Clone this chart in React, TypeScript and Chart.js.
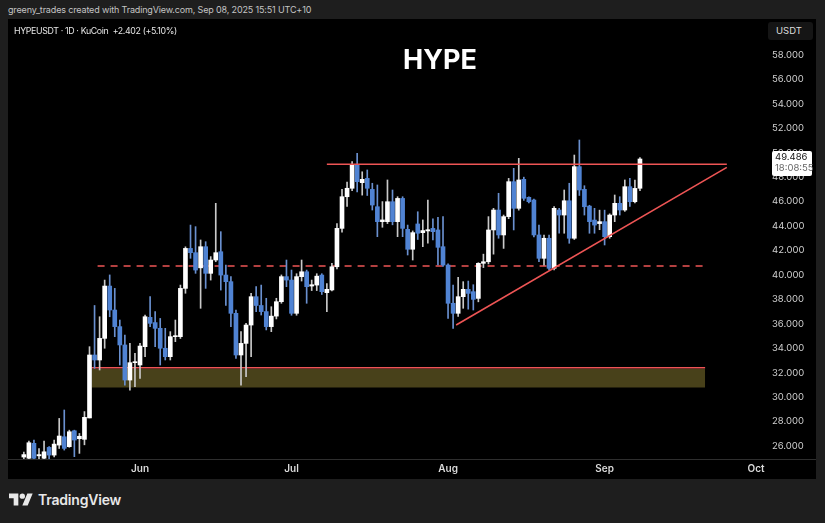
import React, { useEffect, useRef } from "react";
import { Chart, registerables } from "chart.js";

Chart.register(...registerables);

// Daily candles HYPEUSDT (KuCoin), first candle 2025-05-09; x = day offset from Jun 1
const FIRST_DAY = -23;
const opens = [
  25.1, 25.0, 26.22, 25.2, 25.0, 25.89, 25.26, 26.08, 26.76, 25.95, 27.25, 26.6, 26.55, 28.3, 33.45, 33.04, 34.81, 39.09, 37.13, 35.77,
  34.27, 31.4, 32.82, 32.63, 34.13, 36.53, 36.1, 35.63, 34.0, 33.31, 34.95, 34.95, 38.9, 42.17, 41.82, 40.58, 42.31, 40.13, 41.22, 41.9,
  39.99, 39.45, 36.86, 33.45, 34.4, 35.9, 38.22, 37.5, 37.0, 35.77, 36.63, 37.81, 39.86, 39.58, 36.86, 39.86, 40.26, 39.09, 39.17, 39.99,
  38.55, 38.77, 40.67, 43.81, 46.4, 47.09, 49.0, 47.55, 47.9, 47.0, 45.58, 44.36, 44.36, 45.99, 44.36, 46.26, 43.73, 42.1, 44.17, 43.46,
  43.6, 43.81, 43.68, 42.31, 40.81, 37.68, 36.86, 38.22, 38.82, 38.63, 38.08, 40.95, 41.08, 43.68, 45.31, 43.27, 44.77, 47.63, 45.45, 47.82,
  46.35, 46.13, 43.27, 41.36, 43.0, 40.54, 45.31, 44.9, 46.07, 43.0, 48.86, 47.0, 45.63, 44.49, 44.2, 44.36, 43.13, 44.9, 45.86, 45.31,
  47.22, 45.99, 47.09,
];
const highs = [
  25.5, 26.4, 26.49, 25.8, 26.41, 25.95, 26.49, 28.26, 28.95, 27.3, 27.3, 27.03, 28.82, 34.13, 37.5, 36.58, 39.58, 40.0, 38.9, 36.31,
  35.08, 34.4, 33.58, 34.4, 36.72, 38.22, 37.0, 36.44, 35.63, 35.36, 36.31, 39.17, 42.3, 44.08, 43.95, 42.86, 42.72, 41.5, 45.86, 43.54,
  40.81, 39.86, 37.13, 35.36, 36.04, 38.5, 39.04, 39.17, 38.09, 37.4, 38.09, 40.0, 41.22, 40.4, 40.1, 41.22, 40.4, 39.58, 40.1, 40.1,
  39.3, 40.95, 44.2, 47.0, 47.6, 49.27, 49.95, 48.44, 48.59, 47.5, 47.36, 46.0, 47.77, 46.95, 46.4, 46.4, 44.08, 43.6, 45.17, 44.5,
  46.13, 44.6, 44.72, 44.77, 40.9, 39.17, 39.8, 39.45, 39.5, 39.2, 41.0, 41.7, 44.77, 45.45, 46.68, 44.9, 47.9, 48.72, 49.54, 48.0,
  46.4, 46.2, 44.08, 43.27, 43.27, 45.6, 45.45, 46.95, 47.5, 49.81, 51.04, 47.3, 45.7, 45.45, 45.3, 45.3, 45.0, 46.54, 46.4, 47.77,
  47.9, 47.77, 49.6,
];
const lows = [
  24.9, 24.95, 24.95, 24.95, 24.95, 24.95, 25.1, 25.8, 25.67, 25.9, 25.13, 25.4, 26.1, 28.3, 32.36, 32.22, 34.0, 36.58, 34.95, 32.63,
  30.99, 30.58, 30.85, 31.54, 33.31, 35.77, 34.13, 32.63, 33.04, 33.04, 34.54, 34.8, 38.5, 41.36, 40.13, 37.27, 38.9, 39.58, 41.08, 38.76,
  37.5, 35.77, 33.17, 30.99, 31.67, 33.31, 37.0, 36.72, 35.5, 35.36, 36.4, 37.68, 39.04, 36.7, 36.7, 39.5, 37.68, 38.72, 38.72, 38.4,
  37.0, 38.7, 40.5, 43.5, 45.6, 46.9, 46.8, 46.53, 46.5, 45.31, 43.13, 43.9, 44.2, 44.1, 43.13, 43.13, 41.63, 41.22, 42.9, 42.31,
  42.59, 42.86, 40.81, 40.7, 36.45, 35.63, 36.6, 37.27, 37.2, 37.13, 37.8, 40.6, 40.9, 41.7, 43.0, 42.17, 44.6, 43.68, 45.3, 46.1,
  45.9, 43.1, 41.08, 40.8, 40.4, 40.4, 43.41, 43.41, 42.59, 42.9, 46.5, 44.9, 43.41, 43.41, 43.7, 42.45, 43.0, 44.36, 44.9, 45.2,
  45.6, 45.9, 46.9,
];
const closes = [
  25.3, 26.27, 25.0, 25.3, 25.53, 25.26, 26.16, 26.82, 25.81, 27.17, 26.49, 26.8, 28.35, 33.45, 33.04, 34.81, 39.09, 37.13, 35.77, 34.27,
  31.4, 32.82, 32.9, 34.18, 36.58, 36.04, 35.63, 34.0, 33.31, 34.95, 35.0, 38.9, 42.17, 41.82, 40.4, 42.31, 40.13, 41.22, 41.82, 39.99,
  39.45, 36.86, 33.45, 34.4, 35.9, 38.22, 37.5, 37.0, 35.77, 36.63, 37.81, 39.86, 39.58, 36.86, 39.86, 40.26, 39.04, 39.2, 39.9, 38.63,
  38.82, 40.67, 43.81, 46.4, 47.09, 49.0, 47.63, 47.82, 47.09, 45.72, 44.36, 44.5, 45.99, 44.36, 46.26, 43.81, 42.1, 43.46, 43.41, 43.63,
  43.7, 43.54, 42.26, 40.81, 37.68, 36.86, 38.22, 38.82, 38.49, 38.0, 40.95, 41.08, 43.68, 45.31, 43.27, 44.77, 47.63, 45.45, 47.77, 46.27,
  45.99, 43.27, 41.36, 43.0, 40.54, 45.45, 44.9, 46.07, 43.0, 48.86, 46.95, 45.58, 44.36, 44.08, 44.36, 43.13, 44.9, 45.86, 45.31, 47.22,
  45.99, 47.08, 49.486,
];

const monthTicks = [0, 30, 61, 92, 122];
const monthLabels = ["Jun", "Jul", "Aug", "Sep", "Oct"];
const priceTicks = [26, 28, 30, 32, 34, 36, 38, 40, 42, 44, 46, 48, 50, 52, 54, 56, 58];
const Y_MIN = 24.94;
const Y_MAX = 60.94;
const X_MIN = -26.14;
const X_MAX = 123.76;

// drawn levels (day offset, price)
const resistanceLine = [{ x: 37, y: 49.05 }, { x: 116.2, y: 49.05 }];
const midLevel = [{ x: -8.4, y: 40.73 }, { x: 112, y: 40.73 }];
const supportTrend = [{ x: 62.6, y: 35.9 }, { x: 116.2, y: 48.8 }];
const zoneTopLine = [{ x: -9.6, y: 32.41 }, { x: 111.9, y: 32.41 }];
const zoneBand = [{ x: -9.6, y: 32.3 }, { x: 111.9, y: 32.3 }];
const ZONE_BOTTOM = 30.8;
const LAST_TIME = "18:08:55";

const UP = "#ffffff";
const DOWN = "#5083d3";
const UP_WICK = "#c9c9c9";
const DOWN_WICK = "#6a90cf";
const RED = "#ee5555";
const FONT = "Inter, 'Noto Sans', sans-serif";

const overlayPlugin = {
  id: "overlay",
  afterDraw(chart: any) {
    const { ctx, chartArea, scales } = chart;
    ctx.save();
    ctx.strokeStyle = "#2e2e2e";
    ctx.lineWidth = 1;
    ctx.beginPath();
    ctx.moveTo(0, Math.round(chartArea.bottom) + 0.5);
    ctx.lineTo(chart.width, Math.round(chartArea.bottom) + 0.5);
    ctx.stroke();

    const last = closes[closes.length - 1];
    const py = scales.y.getPixelForValue(last);
    const bx = chartArea.right + 7;
    const by = py - 8;
    const bw = 40;
    const bh = 25;
    ctx.fillStyle = "#ffffff";
    ctx.beginPath();
    (ctx as any).roundRect ? ctx.roundRect(bx, by, bw, bh, 2) : ctx.rect(bx, by, bw, bh);
    ctx.fill();
    ctx.textBaseline = "middle";
    ctx.textAlign = "left";
    ctx.font = `9.5px ${FONT}`;
    ctx.fillStyle = "#131313";
    ctx.fillText(last.toFixed(3), bx + 3, py - 2);
    ctx.fillStyle = "#666666";
    ctx.fillText(LAST_TIME, bx + 3, py + 9);
    ctx.restore();
  },
};

export default function App() {
  const ref = useRef<HTMLCanvasElement | null>(null);

  useEffect(() => {
    if (!ref.current) return;
    const isUp = (i: number) => closes[i] >= opens[i];
    const wickData = highs.map((h, i) => ({ x: FIRST_DAY + i, y: [lows[i], h] }));
    const bodyData = opens.map((o, i) => ({ x: FIRST_DAY + i, y: [o, closes[i]] }));

    const chart = new Chart(ref.current, {
      type: "bar",
      data: {
        datasets: [
          {
            type: "line",
            data: zoneBand,
            borderWidth: 0,
            pointRadius: 0,
            fill: { value: ZONE_BOTTOM },
            backgroundColor: "#48411a",
            order: 10,
          } as any,
          {
            type: "line",
            data: zoneTopLine,
            borderColor: RED,
            borderWidth: 1.6,
            pointRadius: 0,
            fill: false,
            order: 9,
          } as any,
          {
            type: "line",
            data: midLevel,
            borderColor: RED,
            borderWidth: 1.6,
            borderDash: [7, 6],
            pointRadius: 0,
            fill: false,
            order: 8,
          } as any,
          {
            type: "bar",
            data: wickData,
            barThickness: 1,
            grouped: false,
            backgroundColor: (c: any) => (isUp(c.dataIndex) ? UP_WICK : DOWN_WICK),
            borderWidth: 0,
            order: 5,
          } as any,
          {
            type: "bar",
            data: bodyData,
            barThickness: 4,
            grouped: false,
            minBarLength: 1,
            backgroundColor: (c: any) => (isUp(c.dataIndex) ? UP : DOWN),
            borderWidth: 0,
            order: 4,
          } as any,
          {
            type: "line",
            data: resistanceLine,
            borderColor: RED,
            borderWidth: 1.6,
            pointRadius: 0,
            fill: false,
            order: 2,
          } as any,
          {
            type: "line",
            data: supportTrend,
            borderColor: RED,
            borderWidth: 1.6,
            pointRadius: 0,
            fill: false,
            order: 1,
          } as any,
        ],
      },
      options: {
        animation: false,
        responsive: false,
        maintainAspectRatio: false,
        layout: { padding: 0, autoPadding: false },
        plugins: { legend: { display: false }, tooltip: { enabled: false } },
        scales: {
          x: {
            type: "linear",
            min: X_MIN,
            max: X_MAX,
            offset: false,
            grid: { display: false, drawTicks: false },
            border: { display: false },
            afterBuildTicks: (s: any) => {
              s.ticks = monthTicks.map((v) => ({ value: v }));
            },
            afterFit: (s: any) => {
              s.height = 20;
              s.paddingLeft = 0;
              s.paddingRight = 0;
            },
            ticks: {
              autoSkip: false,
              maxRotation: 0,
              padding: 4,
              color: "#dcdcdc",
              font: { family: FONT, size: 10, weight: "600" },
              callback: (v: any) => {
                const k = monthTicks.indexOf(Number(v));
                return k >= 0 ? monthLabels[k] : "";
              },
            },
          },
          y: {
            type: "linear",
            position: "right",
            min: Y_MIN,
            max: Y_MAX,
            grid: { display: false, drawTicks: false },
            border: { display: false },
            afterBuildTicks: (s: any) => {
              s.ticks = priceTicks.map((v) => ({ value: v }));
            },
            afterFit: (s: any) => {
              s.width = 51;
              s.paddingTop = 0;
              s.paddingBottom = 0;
            },
            ticks: {
              padding: 7,
              color: "#cfcfcf",
              font: { family: FONT, size: 9.5 },
              callback: (v: any) => Number(v).toFixed(3),
            },
          },
        },
      } as any,
      plugins: [overlayPlugin],
    });
    return () => chart.destroy();
  }, []);

  return (
    <div
      style={{
        position: "fixed",
        left: 0,
        top: 0,
        width: 825,
        height: 523,
        background: "#1e1e1e",
        fontFamily: FONT,
        overflow: "hidden",
      }}
    >
      <div
        style={{
          position: "absolute",
          left: 8,
          top: 4,
          fontSize: 9,
          letterSpacing: -0.15,
          color: "#c4c4c4",
          whiteSpace: "nowrap",
        }}
      >
        greeny_trades created with TradingView.com, Sep 08, 2025 15:51 UTC+10
      </div>
      <div style={{ position: "absolute", left: 8, top: 19, width: 808, height: 460, background: "#000" }}>
        <canvas ref={ref} width={808} height={460} style={{ display: "block" }} />
        <div
          style={{
            position: "absolute",
            left: 6,
            top: 6,
            fontSize: 8.8,
            letterSpacing: -0.35,
            color: "#e6e6e6",
            whiteSpace: "pre",
          }}
        >
          {"HYPEUSDT · 1D · KuCoin  +2.402 (+5.10%)"}
        </div>
        <div
          style={{
            position: "absolute",
            left: 0,
            width: 864,
            top: 24,
            textAlign: "center",
            fontSize: 27,
            fontWeight: 700,
            color: "#ffffff",
          }}
        >
          HYPE
        </div>
        <div
          style={{
            position: "absolute",
            left: 760,
            top: 3,
            width: 45,
            height: 18,
            background: "#151515",
            borderRadius: 3,
            fontSize: 9.5,
            color: "#dddddd",
            lineHeight: "18px",
            paddingLeft: 8,
            boxSizing: "border-box",
          }}
        >
          USDT
        </div>
      </div>
      <div style={{ position: "absolute", left: 9, top: 491, display: "flex", alignItems: "center", gap: 5 }}>
        <svg width={24} height={13} viewBox="0 3.5 36 19">
          <path d="M14 22H7V11H0V4h14v18zM28 22h-8l7.5-18h8L28 22z" fill="#e8e8e8" />
          <circle cx={20} cy={8} r={4} fill="#e8e8e8" />
        </svg>
        <span style={{ fontSize: 14, fontWeight: 600, color: "#e8e8e8", letterSpacing: -0.2 }}>TradingView</span>
      </div>
    </div>
  );
}
